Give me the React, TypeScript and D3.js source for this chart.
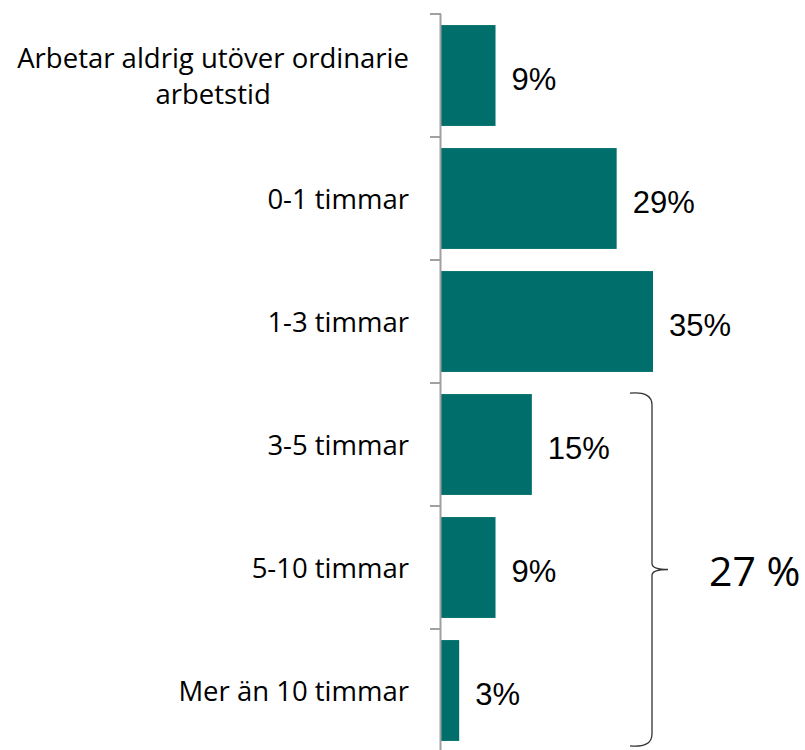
import React, { useEffect, useRef } from "react";
import * as d3 from "d3";

const categories: string[] = [
  "Arbetar aldrig utöver ordinarie|arbetstid",
  "0-1 timmar",
  "1-3 timmar",
  "3-5 timmar",
  "5-10 timmar",
  "Mer än 10 timmar",
];
const values: number[] = [9, 29, 35, 15, 9, 3];
const valueLabels: string[] = ["9%", "29%", "35%", "15%", "9%", "3%"];
const braceFrom = "3-5 timmar";
const braceTo = "Mer än 10 timmar";
const braceLabel = "27 %";

const W = 805;
const H = 750;
const BAR = "#006e6b";

export default function App() {
  const ref = useRef<SVGSVGElement>(null);

  useEffect(() => {
    const svg = d3.select(ref.current);
    svg.selectAll("*").remove();

    const x0 = 441;
    const x = d3.scaleLinear().domain([0, 35]).range([x0, 653]);
    const y = d3
      .scaleBand<string>()
      .domain(categories)
      .range([14, 752])
      .paddingInner(0.18)
      .paddingOuter(0.09);
    const step = y.step();

    // bars
    svg
      .append("g")
      .selectAll("rect")
      .data(categories)
      .join("rect")
      .attr("x", x(0))
      .attr("y", (d) => y(d)!)
      .attr("width", (_d, i) => x(values[i]) - x(0))
      .attr("height", y.bandwidth())
      .attr("fill", BAR);

    // axis line + ticks at band boundaries
    const axis = svg.append("g").attr("stroke", "#a0a0a0").attr("stroke-width", 2);
    axis
      .append("line")
      .attr("x1", x0 - 0.5)
      .attr("x2", x0 - 0.5)
      .attr("y1", 14)
      .attr("y2", H);
    d3.range(categories.length + 1).forEach((i) => {
      const ty = 14 + i * step;
      axis
        .append("line")
        .attr("x1", x0 - 11)
        .attr("x2", x0)
        .attr("y1", ty)
        .attr("y2", ty);
    });

    // value labels
    svg
      .append("g")
      .selectAll("text")
      .data(categories)
      .join("text")
      .attr("x", (_d, i) => x(values[i]) + 16)
      .attr("y", (d) => y(d)! + y.bandwidth() / 2 + 14)
      .attr("font-family", "'Liberation Sans', Arial, sans-serif")
      .attr("font-size", 31)
      .attr("fill", "#000")
      .text((_d, i) => valueLabels[i]);

    // category labels
    const lab = svg.append("g");
    const rightX = 409;
    categories.forEach((c) => {
      const lines = c.split("|");
      const cy = y(c)! + y.bandwidth() / 2;
      const lh = 36;
      const t = lab
        .append("text")
        .attr("font-family", "'Open Sans', sans-serif")
        .attr("font-size", 27.5)
        .attr("fill", "#000");
      lines.forEach((ln, k) => {
        t.append("tspan")
          .attr("y", cy + 10 + (k - (lines.length - 1) / 2) * lh)
          .text(ln);
      });
      if (lines.length === 1) {
        t.attr("text-anchor", "end").selectAll("tspan").attr("x", rightX);
      } else {
        const ws = (t.selectAll("tspan").nodes() as SVGTSpanElement[]).map((n) =>
          n.getComputedTextLength()
        );
        const mw = d3.max(ws) || 0;
        t.attr("text-anchor", "middle").selectAll("tspan").attr("x", rightX - mw / 2);
      }
    });

    // brace
    const top = y(braceFrom)! - 1;
    const bot = y(braceTo)! + y.bandwidth() + 5;
    const mid = (top + bot) / 2;
    const bx = 652;
    const p = d3.path();
    p.moveTo(630, top);
    p.quadraticCurveTo(bx, top - 2, bx, top + 12);
    p.lineTo(bx, mid - 6);
    p.quadraticCurveTo(bx, mid, bx + 16, mid);
    p.quadraticCurveTo(bx, mid, bx, mid + 6);
    p.lineTo(bx, bot - 12);
    p.quadraticCurveTo(bx, bot + 2, 630, bot);
    svg
      .append("path")
      .attr("d", p.toString())
      .attr("fill", "none")
      .attr("stroke", "#333")
      .attr("stroke-width", 1.3);

    svg
      .append("text")
      .attr("x", 709)
      .attr("y", mid + 16)
      .attr("font-family", "'Open Sans', sans-serif")
      .attr("font-size", 41)
      .attr("fill", "#000")
      .text(braceLabel);
  }, []);

  return (
    <div style={{ position: "absolute", left: 0, top: 0, width: W, height: H, background: "#fff" }}>
      <svg ref={ref} width={W} height={H} style={{ display: "block" }} />
    </div>
  );
}
